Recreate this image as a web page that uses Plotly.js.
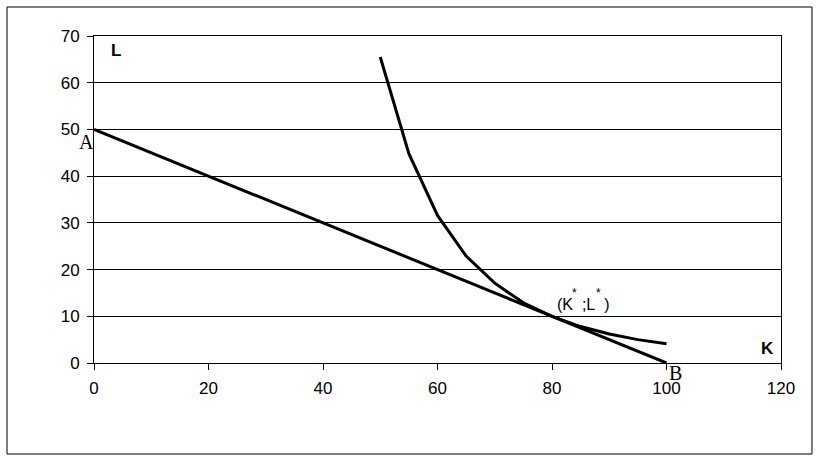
<!DOCTYPE html>
<html>
<head>
<meta charset="utf-8">
<script src="https://cdn.plot.ly/plotly-3.0.1.min.js"></script>
<style>html,body{margin:0;padding:0;background:#fff;}#chart{width:819px;height:461px;}</style>
</head>
<body>
<div id="chart"></div>
<script>
var budgetK = [0, 100];
var budgetL = [50, 0];
var isoquantK = [50, 55, 60, 65, 70, 75, 80, 85, 90, 95, 100];
var isoquantL = [65.5, 44.8, 31.6, 22.9, 17.1, 12.9, 10, 7.8, 6.2, 5.0, 4.1];
var xTicks = [0, 20, 40, 60, 80, 100, 120];
var yTicks = [0, 10, 20, 30, 40, 50, 60, 70];

var traces = [
  {x: budgetK, y: budgetL, mode: 'lines', line: {color: '#000', width: 3}, hoverinfo: 'skip'},
  {x: isoquantK, y: isoquantL, mode: 'lines', line: {color: '#000', width: 3}, hoverinfo: 'skip'}
];

var sans = 'Liberation Sans, Arial, sans-serif';
var serif = 'Liberation Serif, Times New Roman, serif';
var tickFont = {family: sans, size: 17, color: '#000'};
var layout = {
  width: 819, height: 461,
  margin: {l: 94, r: 38, t: 36, b: 98},
  paper_bgcolor: '#fff', plot_bgcolor: '#fff',
  showlegend: false,
  xaxis: {
    range: [0, 120], tickvals: xTicks, ticktext: xTicks.map(String),
    showgrid: false, zeroline: false, showline: true, linecolor: '#000', linewidth: 1,
    mirror: true, ticks: 'outside', ticklen: 6, tickcolor: '#000', tickfont: tickFont,
    ticklabelstandoff: 4
  },
  yaxis: {
    range: [0, 70], tickvals: yTicks, ticktext: yTicks.map(String),
    showgrid: true, gridcolor: '#000', gridwidth: 1, zeroline: false,
    showline: true, linecolor: '#000', linewidth: 1, mirror: true,
    ticks: 'outside', ticklen: 6, tickcolor: '#000', tickfont: tickFont,
    ticklabelstandoff: 4
  },
  shapes: [
    {type: 'rect', xref: 'paper', yref: 'paper', x0: -0.1266, x1: 1.0451, y0: -0.2783, y1: 1.0887,
     line: {color: '#000', width: 1}, fillcolor: 'rgba(0,0,0,0)'}
  ],
  annotations: [
    {x: 0, y: 50, xref: 'x', yref: 'y', text: 'A', showarrow: false, xanchor: 'right', yanchor: 'top', xshift: 2, yshift: 0,
     font: {family: serif, size: 20, color: '#000'}},
    {x: 100, y: 0, xref: 'x', yref: 'y', text: 'B', showarrow: false, xanchor: 'left', yanchor: 'top', xshift: 0, yshift: 3,
     font: {family: serif, size: 20, color: '#000'}},
    {x: 3.8, y: 66.8, xref: 'x', yref: 'y', text: '<b>L</b>', showarrow: false,
     font: {family: sans, size: 17, color: '#000'}},
    {x: 117.6, y: 3.2, xref: 'x', yref: 'y', text: '<b>K</b>', showarrow: false,
     font: {family: sans, size: 17, color: '#000'}},
    {x: 85.4, y: 12.5, xref: 'x', yref: 'y', text: '(K&nbsp;&nbsp;;L&nbsp;&nbsp;)', showarrow: false,
     font: {family: sans, size: 16, color: '#000'}},
    {x: 84.0, y: 14.9, xref: 'x', yref: 'y', text: '*', showarrow: false,
     font: {family: sans, size: 12, color: '#000'}},
    {x: 88.2, y: 14.9, xref: 'x', yref: 'y', text: '*', showarrow: false,
     font: {family: sans, size: 12, color: '#000'}}
  ]
};
Plotly.newPlot('chart', traces, layout, {staticPlot: true, displayModeBar: false});
</script>
</body>
</html>
